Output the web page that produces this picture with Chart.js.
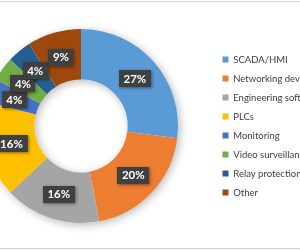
<!DOCTYPE html>
<html>
<head>
<meta charset="utf-8">
<script src="https://cdn.jsdelivr.net/npm/chart.js@4/dist/chart.umd.min.js"></script>
<style>
  html, body { margin: 0; padding: 0; background: #fff; }
  #frame {
    position: relative;
    width: 300px;
    height: 250px;
    overflow: hidden;
    background: #fff;
  }
  #frame .rule { position: absolute; left: 0; width: 300px; height: 1px; background: #cfcfcf; }
  #chart { position: absolute; left: -51px; top: 0; }
</style>
</head>
<body>
<div id="frame">
  <canvas id="chart" width="364" height="250"></canvas>
  <div class="rule" style="top:1px"></div>
  <div class="rule" style="top:248px"></div>
</div>
<script>
// ------------------------
// Data
// ------------------------
const categories = [
  'SCADA/HMI',
  'Networking devices',
  'Engineering software',
  'PLCs',
  'Monitoring',
  'Video surveillance',
  'Relay protection',
  'Other',
]
const shares = [27, 20, 16, 16, 4, 4, 4, 9]
const colors = ['#5B9BD5', '#ED7D31', '#A5A5A5', '#FFC000', '#4472C4', '#70AD47', '#255E91', '#9E480E']

const total = shares.reduce((a, b) => a + b, 0)
const pctLabel = (v) => `${Math.round((v / total) * 100)}%`

// ------------------------
// Plugins
// ------------------------

// soft shadow under the whole ring, drawn once before the slices
const ringShadow = {
  id: 'ringShadow',
  beforeDatasetsDraw(chart) {
    const arc = chart.getDatasetMeta(0).data[0]
    if (!arc) return
    const { x, y, innerRadius, outerRadius } = arc.getProps(['x', 'y', 'innerRadius', 'outerRadius'], true)
    const ctx = chart.ctx
    ctx.save()
    ctx.shadowColor = 'rgba(0,0,0,0.28)'
    ctx.shadowBlur = 9
    ctx.shadowOffsetX = 2
    ctx.shadowOffsetY = 2
    ctx.beginPath()
    ctx.arc(x, y, outerRadius, 0, Math.PI * 2)
    ctx.arc(x, y, innerRadius, 0, Math.PI * 2, true)
    ctx.fillStyle = '#ffffff'
    ctx.fill()
    ctx.restore()
  },
}

// dark value boxes in the middle of each slice
const valueBoxes = {
  id: 'valueBoxes',
  afterDatasetsDraw(chart) {
    const ctx = chart.ctx
    const meta = chart.getDatasetMeta(0)
    ctx.save()
    ctx.font = 'bold 11.5px Lato, "DejaVu Sans", sans-serif'
    ctx.textAlign = 'center'
    ctx.textBaseline = 'middle'
    meta.data.forEach((arc, i) => {
      const { x, y } = arc.tooltipPosition(true)
      const text = pctLabel(shares[i])
      const w = ctx.measureText(text).width + 9
      const h = 17
      ctx.shadowColor = 'rgba(0,0,0,0.45)'
      ctx.shadowBlur = 3
      ctx.shadowOffsetX = 1
      ctx.shadowOffsetY = 1
      ctx.fillStyle = '#404040'
      ctx.fillRect(Math.round(x - w / 2), Math.round(y - h / 2), Math.round(w), h)
      ctx.shadowColor = 'transparent'
      ctx.fillStyle = '#ffffff'
      ctx.fillText(text, x, y + 0.5)
    })
    ctx.restore()
  },
}

// ------------------------
// Chart
// ------------------------
new Chart(document.getElementById('chart'), {
  type: 'doughnut',

  data: {
    labels: categories,
    datasets: [
      {
        data: shares,
        backgroundColor: colors,
        borderWidth: 0,
      },
    ],
  },

  options: {
    responsive: false,
    animation: false,
    cutout: '48%',

    layout: {
      padding: { top: 29, bottom: 27, left: 0, right: 0 },
    },

    plugins: {
      legend: {
        position: 'right',
        maxWidth: 100,
        labels: {
          boxWidth: 6,
          boxHeight: 6,
          padding: 9.5,
          color: '#404040',
          font: { family: 'Lato, "DejaVu Sans", sans-serif', size: 9.5 },
        },
      },
      tooltip: { enabled: false },
    },
  },

  plugins: [ringShadow, valueBoxes],
})
</script>
</body>
</html>
